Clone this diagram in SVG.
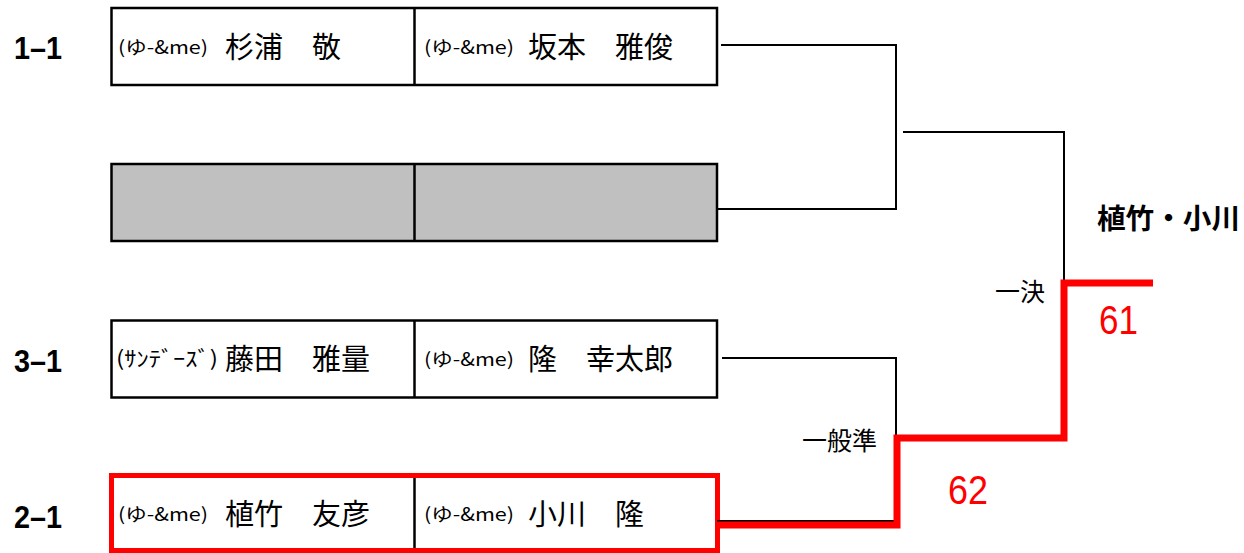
<svg xmlns="http://www.w3.org/2000/svg" width="1244" height="553" viewBox="0 0 1244 553">
<style>
.box{fill:#fff;stroke:#000;stroke-width:2.5}
.gray{fill:#c0c0c0;stroke:#000;stroke-width:2.5}
.div{stroke:#000;stroke-width:2.5}
.seed{font-family:"Liberation Sans",Arial,sans-serif;font-weight:bold;font-size:32px;fill:#000}
.team{font-family:"Noto Sans CJK JP","Noto Sans",sans-serif;font-size:18px;fill:#000}
.name{font-family:"Noto Sans CJK JP",sans-serif;font-size:29px;fill:#000}
.lbl{font-family:"Noto Sans CJK JP",sans-serif;font-size:25px;fill:#000}
.win{font-family:"Noto Sans CJK JP",sans-serif;font-size:28px;font-weight:bold;fill:#000}
.score{font-family:"Liberation Sans",Arial,sans-serif;font-size:40px;fill:#ff0000}
.ln{fill:none;stroke:#000;stroke-width:2}
.red{fill:none;stroke:#ff0000;stroke-width:7;stroke-linejoin:miter}
</style>
<rect width="1244" height="553" fill="#fff"/>
<g id="seeds">
<text class="seed" x="14" y="59" textLength="48" lengthAdjust="spacingAndGlyphs">1–1</text>
<text class="seed" x="14" y="372" textLength="48" lengthAdjust="spacingAndGlyphs">3–1</text>
<text class="seed" x="14" y="528" textLength="48" lengthAdjust="spacingAndGlyphs">2–1</text>
</g>
<g id="node-1-1">
<rect class="box" x="111.5" y="8" width="605.5" height="77"/>
<line class="div" x1="414.5" y1="8" x2="414.5" y2="85"/>
<text class="team" x="118" y="54" textLength="90" lengthAdjust="spacingAndGlyphs">(ゆ-&amp;me)</text>
<text class="name" x="225" y="58">杉浦　敬</text>
<text class="team" x="424" y="54" textLength="90" lengthAdjust="spacingAndGlyphs">(ゆ-&amp;me)</text>
<text class="name" x="528" y="58">坂本　雅俊</text>
</g>
<g id="node-bye">
<rect class="gray" x="111.5" y="164" width="605.5" height="77"/>
<line class="div" x1="414.5" y1="164" x2="414.5" y2="241"/>
</g>
<g id="node-3-1">
<rect class="box" x="111.5" y="320.5" width="605.5" height="77"/>
<line class="div" x1="414.5" y1="320.5" x2="414.5" y2="397.5"/>
<text class="team" x="116" y="366" style="font-size:21px" textLength="102" lengthAdjust="spacingAndGlyphs">(ｻﾝﾃﾞｰｽﾞ)</text>
<text class="name" x="225" y="370">藤田　雅量</text>
<text class="team" x="424" y="366" textLength="90" lengthAdjust="spacingAndGlyphs">(ゆ-&amp;me)</text>
<text class="name" x="528" y="370">隆　幸太郎</text>
</g>
<g id="node-2-1">
<rect x="111.5" y="475.5" width="606" height="75" fill="#fff" stroke="#ff0000" stroke-width="5"/>
<line class="div" x1="414.5" y1="478" x2="414.5" y2="548"/>
<text class="team" x="118" y="521" textLength="90" lengthAdjust="spacingAndGlyphs">(ゆ-&amp;me)</text>
<text class="name" x="225" y="525">植竹　友彦</text>
<text class="team" x="424" y="521" textLength="90" lengthAdjust="spacingAndGlyphs">(ゆ-&amp;me)</text>
<text class="name" x="528" y="525">小川　隆</text>
</g>
<g id="connectors">
<polyline class="ln" points="721,45 896,45 896,209 717,209"/>
<polyline class="ln" points="903,132 1064,132 1064,283"/>
<polyline class="ln" points="722,358 896,358 896,436"/>
<line class="ln" x1="717" y1="521" x2="896" y2="521"/>
<polyline class="red" points="717,525 897,525 897,438 1064,438 1064,283 1153,283"/>
</g>
<g id="labels">
<text class="lbl" x="1045" y="301" text-anchor="end">一決</text>
<text class="lbl" x="877" y="450" text-anchor="end">一般準</text>
<text class="win" x="1097" y="229" textLength="143" lengthAdjust="spacingAndGlyphs">植竹・小川</text>
<text class="score" x="1099" y="334" textLength="39" lengthAdjust="spacingAndGlyphs">61</text>
<text class="score" x="948" y="504" textLength="40" lengthAdjust="spacingAndGlyphs">62</text>
</g>
</svg>
